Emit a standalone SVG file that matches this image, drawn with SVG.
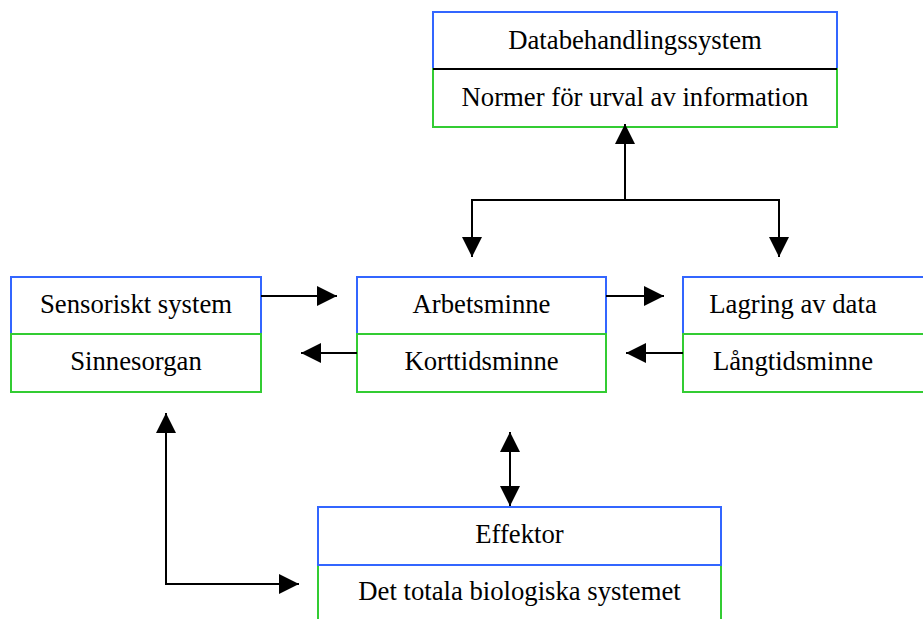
<svg xmlns="http://www.w3.org/2000/svg" width="923" height="619" viewBox="0 0 923 619">
<defs>
<marker id="ah" viewBox="0 0 20 20" refX="20" refY="10" markerWidth="20" markerHeight="20" markerUnits="userSpaceOnUse" orient="auto-start-reverse">
<path d="M0,0 L20,10 L0,20 z" fill="#000"/>
</marker>
<style>
.b{fill:#fff;stroke:#3366FF;stroke-width:2}
.g{fill:#fff;stroke:#33CC33;stroke-width:2}
.div{stroke:#000;stroke-width:2}
.t{font-family:"Liberation Serif","Times New Roman",serif;font-size:26.7px;fill:#000;text-anchor:middle}
.c{fill:none;stroke:#000;stroke-width:2}
</style>
</defs>
<rect width="923" height="619" fill="#fff"/>
<g id="databehandling">
<rect class="b" x="433" y="12" width="404" height="57"/>
<rect class="g" x="433" y="69" width="404" height="58"/>
<line class="div" x1="433" y1="69" x2="837" y2="69"/>
<text class="t" x="635" y="49">Databehandlingssystem</text>
<text class="t" x="635" y="106">Normer för urval av information</text>
</g>
<g id="sensoriskt">
<rect class="b" x="11" y="277" width="250" height="57"/>
<rect class="g" x="11" y="334" width="250" height="58"/>
<text class="t" x="136" y="313">Sensoriskt system</text>
<text class="t" x="136" y="370">Sinnesorgan</text>
</g>
<g id="arbetsminne">
<rect class="b" x="357" y="277" width="249" height="57"/>
<rect class="g" x="357" y="334" width="249" height="58"/>
<text class="t" x="481.5" y="313">Arbetsminne</text>
<text class="t" x="481.5" y="370">Korttidsminne</text>
</g>
<g id="lagring">
<rect class="b" x="683" y="277" width="242" height="57"/>
<rect class="g" x="683" y="334" width="242" height="58"/>
<text class="t" x="793" y="313">Lagring av data</text>
<text class="t" x="793" y="370">Långtidsminne</text>
</g>
<g id="effektor">
<rect class="g" x="318" y="565" width="403" height="70"/>
<rect class="b" x="318" y="507" width="403" height="58"/>
<text class="t" x="519.5" y="543">Effektor</text>
<text class="t" x="519.5" y="600">Det totala biologiska systemet</text>
</g>
<g id="connectors">
<path class="c" d="M261,296 H337" marker-end="url(#ah)"/>
<path class="c" d="M357,353 H301" marker-end="url(#ah)"/>
<path class="c" d="M606,296 H664" marker-end="url(#ah)"/>
<path class="c" d="M683,353 H626" marker-end="url(#ah)"/>
<path class="c" d="M625,200 V124" marker-end="url(#ah)"/>
<path class="c" d="M471,200 H780"/>
<path class="c" d="M472,200 V257" marker-end="url(#ah)"/>
<path class="c" d="M779,200 V257" marker-end="url(#ah)"/>
<path class="c" d="M510,432 V506" marker-start="url(#ah)" marker-end="url(#ah)"/>
<path class="c" d="M166,413 V584 H299" marker-start="url(#ah)" marker-end="url(#ah)"/>
</g>
</svg>
